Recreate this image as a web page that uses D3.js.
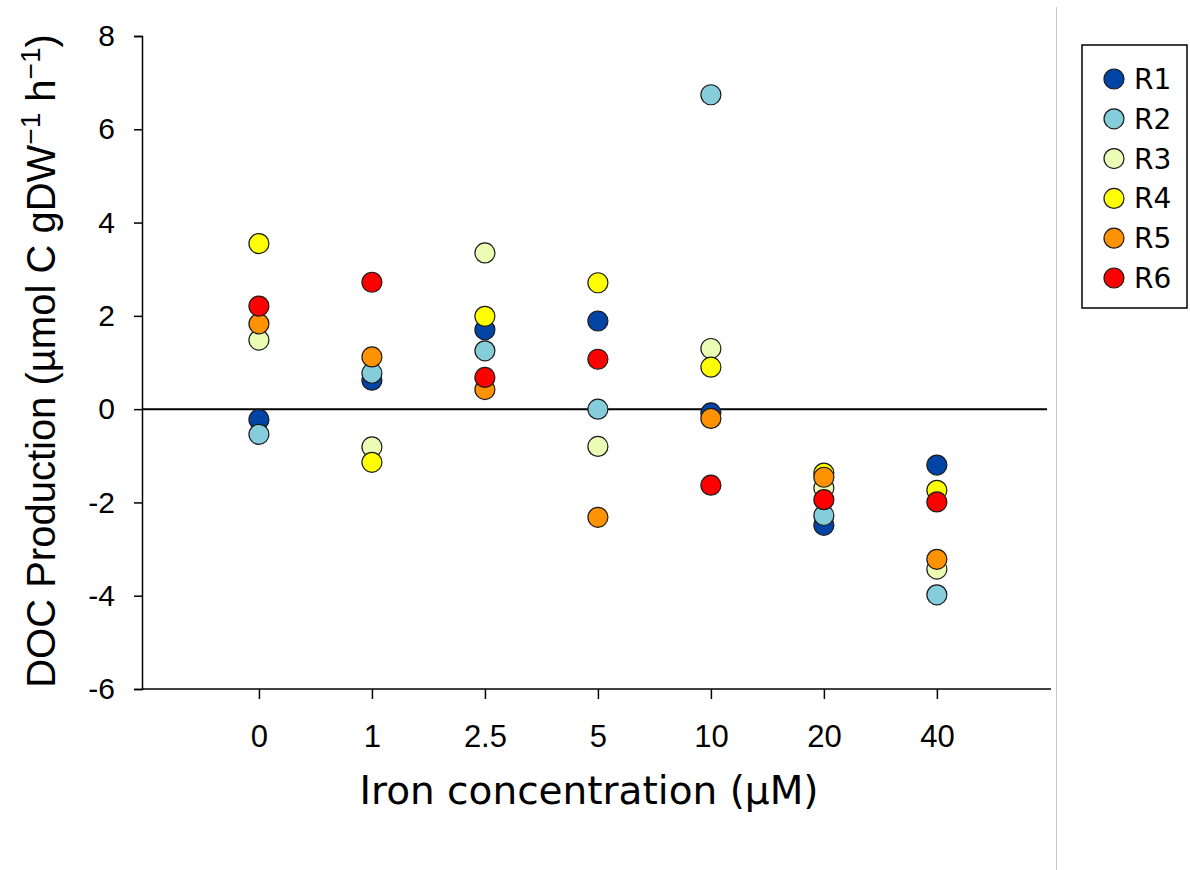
<!DOCTYPE html>
<html>
<head>
<meta charset="utf-8">
<script src="https://cdn.jsdelivr.net/npm/d3@7"></script>
<style>
  html, body { margin: 0; padding: 0; background: #fff; }
  svg { display: block; }
</style>
</head>
<body>
<svg id="chart" width="1190" height="870"></svg>
<script>
const categories = ["0", "1", "2.5", "5", "10", "20", "40"];
const seriesNames = ["R1", "R2", "R3", "R4", "R5", "R6"];
const seriesColors = ["#0045a5", "#86cddb", "#ebfdb5", "#ffff00", "#ff9200", "#ff0000"];
const R1 = [-0.22, 0.62, 1.70, 1.89, -0.08, -2.49, -1.20];
const R2 = [-0.54, 0.77, 1.25, 0.00, 6.74, -2.28, -3.98];
const R3 = [1.48, -0.81, 3.35, -0.80, 1.30, -1.69, -3.43];
const R4 = [3.55, -1.14, 1.99, 2.71, 0.90, -1.37, -1.74];
const R5 = [1.83, 1.12, 0.42, -2.32, -0.20, -1.46, -3.22];
const R6 = [2.21, 2.72, 0.68, 1.07, -1.63, -1.94, -1.99];
const yTicks = [-6, -4, -2, 0, 2, 4, 6, 8];

const seriesValues = [R1, R2, R3, R4, R5, R6];
const series = seriesNames.map((n, i) => ({name: n, color: seriesColors[i], values: seriesValues[i]}));

const svg = d3.select("#chart");
const pLeft = 142, pRight = 1051, pTop = 36, pBottom = 689;

const x = d3.scaleLinear().domain([-1.035, 7.01]).range([pLeft, pRight]);
const y = d3.scaleLinear().domain([-6, 8]).range([pBottom, pTop]);

// separator line at right
svg.append("line").attr("x1", 1056.5).attr("x2", 1056.5).attr("y1", 7).attr("y2", 870)
  .attr("stroke", "#c8c8c8").attr("stroke-width", 1);

// Y axis
const yAxis = d3.axisLeft(y).tickValues(yTicks).tickSize(8).tickPadding(19).tickFormat(d3.format("d"));
const gy = svg.append("g").attr("transform", `translate(${pLeft},0)`).call(yAxis);
gy.select(".domain").attr("stroke", "#000").attr("stroke-width", 1.5);
gy.selectAll(".tick line").attr("stroke", "#000").attr("stroke-width", 1.5);
gy.selectAll(".tick text").attr("font-family", "'Liberation Sans', Arial, sans-serif")
  .attr("font-size", 30).attr("fill", "#000").text(d => d < 0 ? "-" + Math.abs(d) : d);

// X axis
const xAxis = d3.axisBottom(x).tickValues(d3.range(categories.length)).tickSize(10).tickPadding(26)
  .tickFormat(i => categories[i]);
const gx = svg.append("g").attr("transform", `translate(0,${pBottom})`).call(xAxis);
gx.select(".domain").attr("stroke", "#000").attr("stroke-width", 1.5)
  .attr("d", `M${pLeft},0H${pRight}`);
gx.selectAll(".tick line").attr("stroke", "#000").attr("stroke-width", 1.5);
gx.selectAll(".tick text").attr("font-family", "'Liberation Sans', Arial, sans-serif")
  .attr("font-size", 31).attr("fill", "#000");

// zero line
svg.append("line").attr("x1", pLeft).attr("x2", 1047).attr("y1", y(0)).attr("y2", y(0))
  .attr("stroke", "#000").attr("stroke-width", 2);

// points
series.forEach(s => {
  svg.append("g").selectAll("circle").data(s.values).join("circle")
    .attr("cx", (d, i) => x(i)).attr("cy", d => y(d)).attr("r", 10)
    .attr("fill", s.color).attr("stroke", "#1a1a1a").attr("stroke-width", 1.2);
});

// Y title
const yt = svg.append("text").attr("transform", "translate(55,361) rotate(-90)")
  .attr("text-anchor", "middle").attr("font-family", "'Liberation Sans', Arial, sans-serif")
  .attr("font-size", 40).attr("fill", "#000");
yt.append("tspan").text("DOC Production (µmol C gDW");
yt.append("tspan").attr("baseline-shift", "super").attr("font-size", 28).text("−1");
yt.append("tspan").text(" h");
yt.append("tspan").attr("baseline-shift", "super").attr("font-size", 28).text("−1");
yt.append("tspan").text(")");

// X title
svg.append("text").attr("x", 589).attr("y", 804).attr("text-anchor", "middle")
  .attr("font-family", "'DejaVu Sans', Verdana, sans-serif").attr("font-size", 39)
  .attr("fill", "#000").text("Iron concentration (µM)");

// Legend
svg.append("rect").attr("x", 1082).attr("y", 45).attr("width", 105).attr("height", 263)
  .attr("fill", "#fff").attr("stroke", "#000").attr("stroke-width", 1.5);
const lg = svg.append("g").selectAll("g").data(series).join("g")
  .attr("transform", (d, i) => `translate(1114,${79 + i * 39.8})`);
lg.append("circle").attr("r", 10).attr("fill", d => d.color).attr("stroke", "#1a1a1a").attr("stroke-width", 1.2);
lg.append("text").attr("x", 20).attr("dy", "0.36em").attr("font-family", "'DejaVu Sans', Verdana, sans-serif")
  .attr("font-size", 28).attr("fill", "#000").text(d => d.name);
</script>
</body>
</html>
